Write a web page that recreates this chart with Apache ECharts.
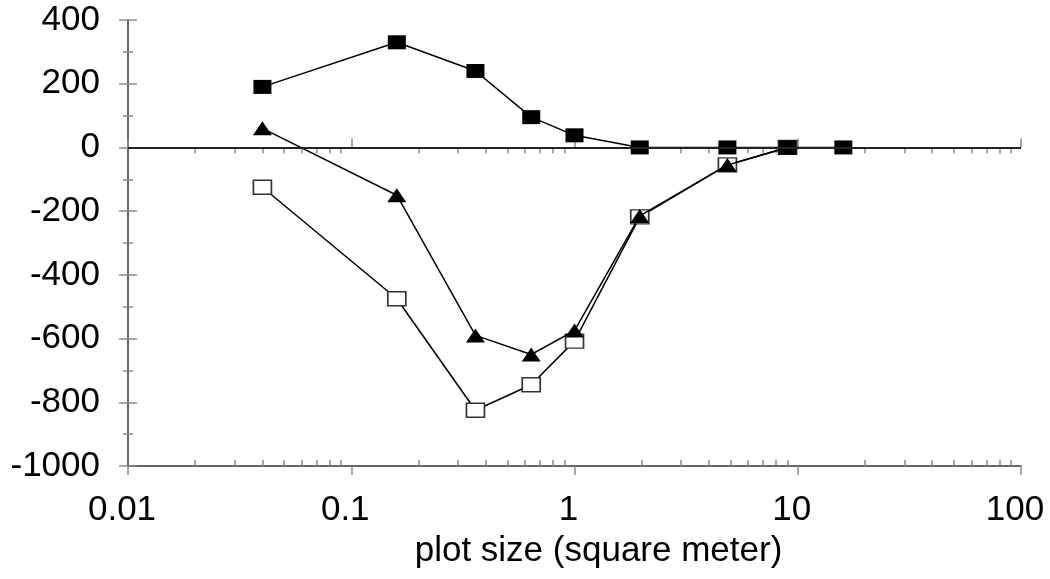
<!DOCTYPE html>
<html>
<head>
<meta charset="utf-8">
<script src="https://cdn.jsdelivr.net/npm/echarts@6/dist/echarts.min.js"></script>
<style>
html,body{margin:0;padding:0;background:#fff;}
#chart{width:1050px;height:579px;}
</style>
</head>
<body>
<div id="chart"></div>
<script>
// ---- data ----
const plotSize = [0.04, 0.16, 0.36, 0.64, 1, 1.96, 4.84, 9, 16];
const filledSquares = [190, 330, 240, 95, 38, 0, 0, 0, 0];
const triangles = [60, -150, -590, -650, -575, -215, -55, 0];
const openSquares = [-125, -475, -825, -745, -608, -218, -55, 0];
const xTickLabels = ['0.01', '0.1', '1', '10', '100'];
const xMinorTicks = [0.02,0.03,0.04,0.05,0.06,0.07,0.08,0.09,
                     0.2,0.3,0.4,0.5,0.6,0.7,0.8,0.9,
                     2,3,4,5,6,7,8,9,
                     20,30,40,50,60,70,80,90];
const yTickLabels = ['-1000','-800','-600','-400','-200','0','200','400'];

function pairs(ys){ return ys.map((y,i)=>[plotSize[i], y]); }

const font = 'Liberation Sans, Arial, sans-serif';
const tickColor = '#8c8c8c';
const axisColor = '#333';

function xBase(extra){
  return Object.assign({
    type:'log', logBase:10, min:0.01, max:100, splitNumber:4, position:'bottom', offset:0,
    splitLine:{show:false}, axisLine:{show:false}, axisLabel:{show:false},
    axisTick:{show:false}
  }, extra);
}
function yBase(extra){
  return Object.assign({
    type:'value', min:-1000, max:400, interval:200, position:'left', offset:0,
    splitLine:{show:false}, axisLine:{show:false}, axisLabel:{show:false},
    axisTick:{show:false}
  }, extra);
}

const chart = echarts.init(document.getElementById('chart'), null, {renderer:'canvas'});
chart.setOption({
  animation:false,
  backgroundColor:'#fff',
  grid:{left:128, right:29, top:20, bottom:113, containLabel:false},
  xAxis:[
    xBase({
      axisLine:{show:true, onZero:false, lineStyle:{color:axisColor, width:1.5}},
      axisTick:{show:true, length:9, lineStyle:{color:tickColor, width:1.5}},
      axisLabel:{show:true, color:'#000', fontSize:35, fontFamily:font, margin:27,
        padding:[0,12,0,0],
        formatter:(v)=>{ const i=Math.round(Math.log10(v))+2; return xTickLabels[i]; }},
      name:'plot size (square meter)', nameLocation:'middle', nameGap:68,
      nameTextStyle:{color:'#000', fontSize:35, fontFamily:font, padding:[0,0,0,48]}
    }),
    xBase({ axisTick:{show:true, inside:true, length:9, lineStyle:{color:tickColor, width:1.5}} }),
    xBase({ axisTick:{show:true, length:6, customValues:xMinorTicks, lineStyle:{color:tickColor, width:1.5}} }),
    xBase({ axisTick:{show:true, inside:true, length:6, customValues:xMinorTicks, lineStyle:{color:tickColor, width:1.5}} })
  ],
  yAxis:[
    yBase({
      axisLine:{show:true, onZero:false, lineStyle:{color:axisColor, width:1.5}},
      axisTick:{show:true, length:9, lineStyle:{color:tickColor, width:1.5}},
      minorTick:{show:true, splitNumber:2, length:5, lineStyle:{color:tickColor, width:1.5}},
      axisLabel:{show:true, color:'#000', fontSize:35, fontFamily:font, margin:28,
        formatter:(v)=>{ const i=Math.round((v+1000)/200); return yTickLabels[i]; }}
    }),
    yBase({
      axisTick:{show:true, inside:true, length:9, lineStyle:{color:tickColor, width:1.5}},
      minorTick:{show:true, splitNumber:2, length:5, lineStyle:{color:tickColor, width:1.5}}
    })
  ],
  series:[
    {
      type:'line', name:'open squares', xAxisIndex:0, yAxisIndex:0,
      data:pairs(openSquares),
      symbol:'rect', symbolSize:[18,14],
      lineStyle:{color:'#000', width:1.5},
      itemStyle:{color:'#fff', borderColor:'#333', borderWidth:1.5},
      z:2,
      markLine:{
        silent:true, symbol:['none','none'], label:{show:false},
        lineStyle:{color:'#222', width:2, type:'solid'},
        data:[{yAxis:0}]
      }
    },
    {
      type:'line', name:'triangles', xAxisIndex:0, yAxisIndex:0,
      data:pairs(triangles),
      symbol:'triangle', symbolSize:[19,14],
      lineStyle:{color:'#000', width:1.5},
      itemStyle:{color:'#000'},
      z:3
    },
    {
      type:'line', name:'filled squares', xAxisIndex:0, yAxisIndex:0,
      data:pairs(filledSquares),
      symbol:'rect', symbolSize:[18,14],
      lineStyle:{color:'#000', width:1.5},
      itemStyle:{color:'#000'},
      z:4
    }
  ]
});
</script>
</body>
</html>
